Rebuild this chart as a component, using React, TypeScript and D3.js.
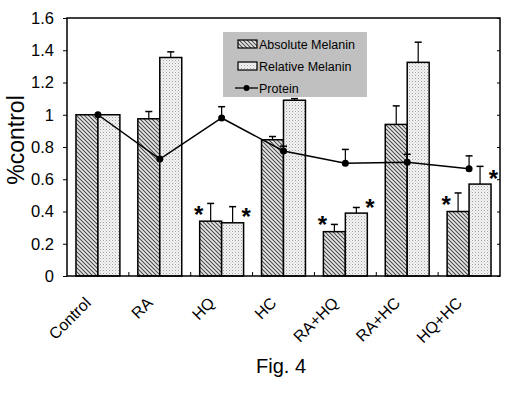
import React, { useEffect, useRef } from "react";
import * as d3 from "d3";

const groups = ["Control", "RA", "HQ", "HC", "RA+HQ", "RA+HC", "HQ+HC"];
const absMelanin = [1.0, 0.975, 0.34, 0.845, 0.275, 0.94, 0.4];
const absErr = [0, 0.045, 0.11, 0.02, 0.045, 0.115, 0.115];
const relMelanin = [1.0, 1.355, 0.33, 1.09, 0.39, 1.325, 0.57];
const relErr = [0, 0.035, 0.1, 0.01, 0.035, 0.125, 0.11];
const protein = [1.0, 0.725, 0.98, 0.775, 0.7, 0.705, 0.665];
const proteinErr = [0, 0, 0.07, 0.03, 0.085, 0.05, 0.08];
// which groups carry a significance star: [abs, rel]
const stars = [
  [false, false],
  [false, false],
  [true, true],
  [false, false],
  [true, true],
  [false, false],
  [true, true],
];
const yTicks = [0, 0.2, 0.4, 0.6, 0.8, 1, 1.2, 1.4, 1.6];
const FONT = "Arial, Liberation Sans, sans-serif";

export default function App() {
  const ref = useRef<SVGSVGElement>(null);

  useEffect(() => {
    const svg = d3.select(ref.current);
    svg.selectAll("*").remove();
    const margin = { left: 67, top: 18, right: 26, bottom: 118 };
    const W = 526, H = 394;
    const w = W - margin.left - margin.right;
    const h = H - margin.top - margin.bottom;

    const defs = svg.append("defs");
    const pa = defs.append("pattern").attr("id", "hatch").attr("patternUnits", "userSpaceOnUse")
      .attr("width", 4).attr("height", 4);
    pa.append("rect").attr("width", 4).attr("height", 4).attr("fill", "#e8e8e8");
    pa.append("path").attr("d", "M-1,-1 L5,5 M-1,3 L1,5 M3,-1 L5,1")
      .attr("stroke", "#4a4a4a").attr("stroke-width", 1.1);
    const pd = defs.append("pattern").attr("id", "dots").attr("patternUnits", "userSpaceOnUse")
      .attr("width", 3).attr("height", 3);
    pd.append("rect").attr("width", 3).attr("height", 3).attr("fill", "#f4f4f4");
    pd.append("rect").attr("x", 0).attr("y", 0).attr("width", 1).attr("height", 1).attr("fill", "#a0a0a0");
    pd.append("rect").attr("x", 1.5).attr("y", 1.5).attr("width", 1).attr("height", 1).attr("fill", "#c0c0c0");

    const g = svg.append("g").attr("transform", `translate(${margin.left},${margin.top})`);
    const x = d3.scaleBand().domain(groups).range([0, w]).paddingInner(0).paddingOuter(0);
    const y = d3.scaleLinear().domain([0, 1.6]).range([h, 0]);
    const bw = x.bandwidth() * 0.355;
    const cx = (d: string) => (x(d) as number) + x.bandwidth() / 2;

    // error bars (behind bars)
    const errLine = (xc: number, v: number, e: number) => {
      if (e <= 0) return;
      g.append("line").attr("x1", xc).attr("x2", xc).attr("y1", y(v)).attr("y2", y(v + e))
        .attr("stroke", "#000").attr("stroke-width", 1.2);
      g.append("line").attr("x1", xc - 3.5).attr("x2", xc + 3.5).attr("y1", y(v + e)).attr("y2", y(v + e))
        .attr("stroke", "#000").attr("stroke-width", 1.5);
    };
    groups.forEach((d, i) => {
      errLine(cx(d) - bw / 2, absMelanin[i], absErr[i]);
      errLine(cx(d) + bw / 2, relMelanin[i], relErr[i]);
    });

    g.selectAll(".abs").data(groups).enter().append("rect")
      .attr("x", (d) => cx(d) - bw).attr("y", (d, i) => y(absMelanin[i]))
      .attr("width", bw).attr("height", (d, i) => h - y(absMelanin[i]))
      .attr("fill", "url(#hatch)").attr("stroke", "#000").attr("stroke-width", 1.5);
    g.selectAll(".rel").data(groups).enter().append("rect")
      .attr("x", (d) => cx(d)).attr("y", (d, i) => y(relMelanin[i]))
      .attr("width", bw).attr("height", (d, i) => h - y(relMelanin[i]))
      .attr("fill", "url(#dots)").attr("stroke", "#000").attr("stroke-width", 1.5);

    // protein
    groups.forEach((d, i) => errLine(cx(d), protein[i], proteinErr[i]));
    const line = d3.line<number>().x((v, i) => cx(groups[i])).y((v) => y(v));
    g.append("path").attr("d", line(protein)).attr("fill", "none").attr("stroke", "#000").attr("stroke-width", 1.5);
    g.selectAll(".pt").data(protein).enter().append("circle")
      .attr("cx", (v, i) => cx(groups[i])).attr("cy", (v) => y(v)).attr("r", 3.5).attr("fill", "#000");

    // stars
    const star = (sx: number, sy: number) => {
      g.append("text").attr("x", sx).attr("y", sy + 13.5)
        .attr("text-anchor", "middle").attr("font-family", FONT)
        .attr("font-size", 24).attr("font-weight", "bold").text("*");
    };
    groups.forEach((d, i) => {
      if (stars[i][0]) star(cx(d) - bw - 1, y(absMelanin[i]) - 12);
      if (stars[i][1]) star(cx(d) + bw + 2.5, y(relMelanin[i]) - 11);
    });

    // frame
    g.append("rect").attr("width", w).attr("height", h).attr("fill", "none")
      .attr("stroke", "#000").attr("stroke-width", 1.5);

    // y axis
    const yAxis = g.append("g").call(d3.axisLeft(y).tickValues(yTicks).tickSize(4).tickPadding(9)
      .tickFormat((d) => d3.format("")(+(+d).toFixed(1))));
    yAxis.select(".domain").remove();
    yAxis.selectAll("text").attr("font-family", FONT).attr("font-size", 16.5).attr("fill", "#000");
    const yRight = g.append("g").attr("transform", `translate(${w},0)`)
      .call(d3.axisRight(y).tickValues(yTicks).tickSize(-3).tickFormat(() => ""));
    yRight.select(".domain").remove();

    // x ticks at group boundaries
    const bounds = groups.slice(1).map((d) => x(d) as number);
    g.selectAll(".xt").data(bounds).enter().append("line")
      .attr("x1", (d) => d).attr("x2", (d) => d).attr("y1", h).attr("y2", h - 4)
      .attr("stroke", "#000").attr("stroke-width", 1);

    g.selectAll(".xl").data(groups).enter().append("text")
      .attr("transform", (d) => `translate(${cx(d) - 6},${h + 28}) rotate(-45)`)
      .attr("text-anchor", "end").attr("font-family", FONT)
      .attr("font-size", 16).attr("fill", "#000").text((d) => d);

    svg.append("text").attr("transform", "translate(24,140) rotate(-90)")
      .attr("text-anchor", "middle").attr("font-family", FONT)
      .attr("font-size", 23).text("%control");

    svg.append("text").attr("x", 281).attr("y", 373).attr("text-anchor", "middle")
      .attr("font-family", FONT).attr("font-size", 20).text("Fig. 4");

    // legend
    const lg = svg.append("g").attr("transform", "translate(223,32)");
    lg.append("rect").attr("width", 144).attr("height", 65).attr("fill", "#c0c0c0");
    const items = ["Absolute Melanin", "Relative Melanin", "Protein"];
    items.forEach((t, i) => {
      const yy = 12 + i * 22;
      if (i < 2) {
        lg.append("rect").attr("x", 15).attr("y", yy - 4).attr("width", 19).attr("height", 8)
          .attr("fill", i === 0 ? "url(#hatch)" : "url(#dots)").attr("stroke", "#000").attr("stroke-width", 1.2);
      } else {
        lg.append("line").attr("x1", 12).attr("x2", 35).attr("y1", yy).attr("y2", yy)
          .attr("stroke", "#000").attr("stroke-width", 1.3);
        lg.append("circle").attr("cx", 23.5).attr("cy", yy).attr("r", 3).attr("fill", "#000");
      }
      lg.append("text").attr("x", 36).attr("y", yy + 4.5).attr("font-family", FONT)
        .attr("font-size", 12.5).attr("fill", "#000").text(t);
    });
  }, []);

  return (
    <div>
      <svg ref={ref} width={526} height={394} style={{ position: "absolute", left: 0, top: 0, background: "#fff" }} />
    </div>
  );
}
